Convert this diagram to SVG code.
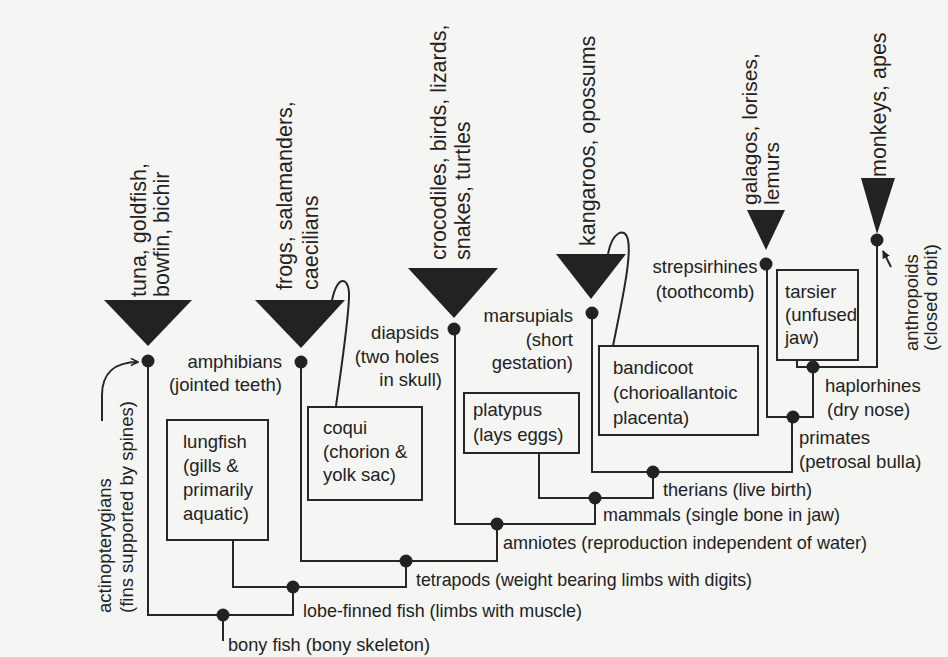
<svg xmlns="http://www.w3.org/2000/svg" width="948" height="657" viewBox="0 0 948 657">
<style>
text{font-family:"Liberation Sans",Arial,Helvetica,sans-serif;fill:#222}
.h{font-size:18.5px}
.v{font-size:21.5px}
.ln{fill:none;stroke:#262626;stroke-width:2}
.tri{fill:#222}
.dot{fill:#222}
.box{fill:none;stroke:#262626;stroke-width:2}
</style>
<defs>
<marker id="open" viewBox="0 0 10 10" refX="9" refY="5" markerWidth="9" markerHeight="9" markerUnits="userSpaceOnUse" orient="auto">
<path d="M1,1 L9,5 L1,9" fill="none" stroke="#262626" stroke-width="1.8"/>
</marker>
<marker id="solid" viewBox="0 0 10 10" refX="9" refY="5" markerWidth="8" markerHeight="8" markerUnits="userSpaceOnUse" orient="auto">
<path d="M0,0 L10,5 L0,10 Z" fill="#222"/>
</marker>
</defs>
<rect width="948" height="657" fill="#f5f5f3"/>

<g id="connectors">
<path class="ln" d="M148,361 V615 H293 V587"/>
<path class="ln" d="M223,615 V641"/>
<path class="ln" d="M233,540 V587 H406 V561"/>
<path class="ln" d="M301,362 V561 H497 V524"/>
<path class="ln" d="M455,329 V524 H595 V498"/>
<path class="ln" d="M539,453 V498 H653 V472"/>
<path class="ln" d="M592,313 V472 H792 V417"/>
<path class="ln" d="M767,264 V417 H813 V367"/>
<path class="ln" d="M797,360 V367 H877 V240"/>
<path class="ln" d="M336,406 C341,370 350,310 349,292 C348,278 338,274 332,300"/>
<path class="ln" d="M613,346 C620,310 632,258 628,240 C625,226 612,232 608,254"/>
<path class="ln" d="M102,421 V395 C102,373 115,362 138,362" marker-end="url(#open)"/>
<path class="ln" d="M891,267 L883,251" stroke-width="1.8" marker-end="url(#solid)"/>
</g>

<g id="bony-fish">
<circle class="dot" cx="223" cy="615" r="6.5"/>
<text class="h" x="228" y="651" textLength="202" lengthAdjust="spacingAndGlyphs">bony fish (bony skeleton)</text>
</g>
<g id="lobe-finned-fish">
<circle class="dot" cx="293" cy="587" r="6.5"/>
<text class="h" x="303" y="617" textLength="279" lengthAdjust="spacingAndGlyphs">lobe-finned fish (limbs with muscle)</text>
</g>
<g id="tetrapods">
<circle class="dot" cx="406" cy="561" r="6.5"/>
<text class="h" x="416" y="586" textLength="336" lengthAdjust="spacingAndGlyphs">tetrapods (weight bearing limbs with digits)</text>
</g>
<g id="amniotes">
<circle class="dot" cx="497" cy="524" r="6.5"/>
<text class="h" x="503" y="549" textLength="364" lengthAdjust="spacingAndGlyphs">amniotes (reproduction independent of water)</text>
</g>
<g id="mammals">
<circle class="dot" cx="595" cy="498" r="6.5"/>
<text class="h" x="603" y="521" textLength="237" lengthAdjust="spacingAndGlyphs">mammals (single bone in jaw)</text>
</g>
<g id="therians">
<circle class="dot" cx="653" cy="472" r="6.5"/>
<text class="h" x="663" y="496" textLength="149" lengthAdjust="spacingAndGlyphs">therians (live birth)</text>
</g>
<g id="primates">
<circle class="dot" cx="793" cy="417" r="6.5"/>
<text class="h" x="799" y="444">primates<tspan x="799" y="468">(petrosal bulla)</tspan></text>
</g>
<g id="haplorhines">
<circle class="dot" cx="813" cy="367" r="6.5"/>
<text class="h" x="825" y="392">haplorhines<tspan x="827" y="416">(dry nose)</tspan></text>
</g>

<g id="actinopterygians">
<polygon class="tri" points="104,300 192,300 148,346"/>
<circle class="dot" cx="148" cy="361" r="6.5"/>
<text class="v" transform="translate(146,297) rotate(-90)">tuna, goldfish,<tspan x="0" y="23">bowfin, bichir</tspan></text>
<text class="h" transform="translate(111,613) rotate(-90)">actinopterygians<tspan x="0" y="22">(fins supported by spines)</tspan></text>
</g>
<g id="lungfish">
<rect class="box" x="167" y="420" width="101" height="120"/>
<text class="h" x="183" y="448">lungfish<tspan x="183" y="472">(gills &amp;</tspan><tspan x="183" y="496">primarily</tspan><tspan x="183" y="520">aquatic)</tspan></text>
</g>
<g id="amphibians">
<polygon class="tri" points="255,300 345,300 301,348"/>
<circle class="dot" cx="301" cy="362" r="6.5"/>
<text class="v" transform="translate(292,290) rotate(-90)">frogs, salamanders,<tspan x="0" y="26">caecilians</tspan></text>
<text class="h" text-anchor="end" x="282" y="368">amphibians<tspan x="282" y="391">(jointed teeth)</tspan></text>
</g>
<g id="coqui">
<rect class="box" x="308" y="407" width="114" height="93"/>
<text class="h" x="323" y="434">coqui<tspan x="323" y="458">(chorion &amp;</tspan><tspan x="323" y="481">yolk sac)</tspan></text>
</g>
<g id="diapsids">
<polygon class="tri" points="408,268 498,268 454,318"/>
<circle class="dot" cx="454" cy="329" r="6.5"/>
<text class="v" transform="translate(446,260) rotate(-90)">crocodiles, birds, lizards,<tspan x="0" y="24">snakes, turtles</tspan></text>
<text class="h" text-anchor="end" x="439" y="339">diapsids<tspan x="439" y="363">(two holes</tspan><tspan x="442" y="386">in skull)</tspan></text>
</g>
<g id="platypus">
<rect class="box" x="464" y="393" width="115" height="60"/>
<text class="h" x="473" y="416">platypus<tspan x="473" y="441">(lays eggs)</tspan></text>
</g>
<g id="marsupials">
<polygon class="tri" points="556,254 626,254 591,299"/>
<circle class="dot" cx="592" cy="313" r="6.5"/>
<text class="v" transform="translate(595,246) rotate(-90)">kangaroos, opossums</text>
<text class="h" text-anchor="end" x="573" y="322">marsupials<tspan x="573" y="346">(short</tspan><tspan x="573" y="369">gestation)</tspan></text>
</g>
<g id="bandicoot">
<rect class="box" x="599" y="346" width="159" height="89"/>
<text class="h" x="613" y="374">bandicoot<tspan x="613" y="399">(chorioallantoic</tspan><tspan x="613" y="424">placenta)</tspan></text>
</g>
<g id="strepsirhines">
<polygon class="tri" points="747,210 785,210 766,250"/>
<circle class="dot" cx="766" cy="264" r="6.5"/>
<text transform="translate(757,205) rotate(-90)" style="font-size:21px">galagos, lorises,<tspan x="0" y="22">lemurs</tspan></text>
<text class="h" text-anchor="middle" x="705" y="273">strepsirhines<tspan x="705" y="298">(toothcomb)</tspan></text>
</g>
<g id="tarsier">
<rect class="box" x="777" y="270" width="81" height="90"/>
<text class="h" x="785" y="298">tarsier<tspan x="785" y="321">(unfused</tspan><tspan x="785" y="344">jaw)</tspan></text>
</g>
<g id="anthropoids">
<polygon class="tri" points="861,178 895,178 877,234"/>
<circle class="dot" cx="877" cy="240" r="6.5"/>
<text class="v" transform="translate(886,177) rotate(-90)">monkeys, apes</text>
<text class="h" transform="translate(918,351) rotate(-90)">anthropoids<tspan x="0" y="19">(closed orbit)</tspan></text>
</g>
</svg>
